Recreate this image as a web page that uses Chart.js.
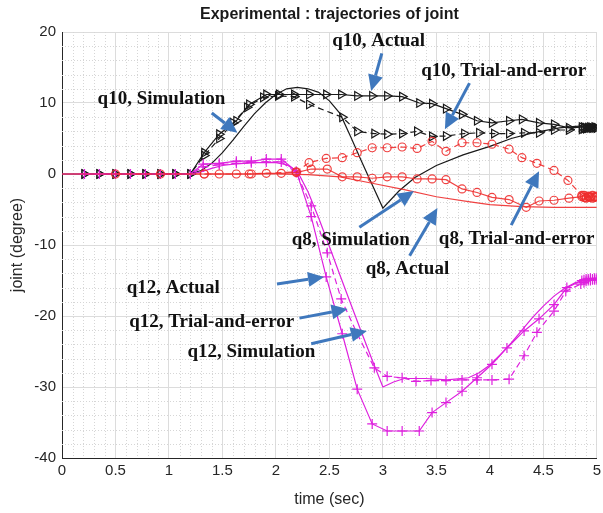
<!DOCTYPE html>
<html lang="en">
<head>
<meta charset="UTF-8">
<title>Experimental : trajectories of joint</title>
<script src="https://cdn.jsdelivr.net/npm/chart.js@4.4.1/dist/chart.umd.min.js"></script>
<style>
  html, body { margin: 0; padding: 0; background: #fff; }
</style>
</head>
<body>
<canvas id="myChart" width="603" height="513"></canvas>
<script>
    // time samples (sec) and joint angles (degree) for each trajectory
    const q10SimT = [0, 1.2, 1.3, 1.4, 1.5, 1.6, 1.7, 1.8, 1.9, 2.0, 2.1, 2.2, 2.3, 2.4, 2.5, 2.6, 2.7, 2.8, 2.9, 3.0, 3.15, 3.3, 3.5, 3.75, 4.0, 4.2, 4.4, 4.65, 4.8, 5.0];
    const q10SimV = [0, 0, 0.5, 1.5, 3.0, 4.8, 6.7, 8.5, 10.0, 11.2, 12.0, 12.2, 12.0, 11.5, 10.3, 8.5, 5.2, 1.8, -1.5, -4.8, -2.4, -0.5, 1.2, 2.7, 3.9, 5.0, 5.8, 6.5, 6.7, 6.8];

    const q10ActT = [0.21, 0.35, 0.5, 0.64, 0.78, 0.92, 1.06, 1.2, 1.33, 1.47, 1.63, 1.75, 1.91, 2.03, 2.17, 2.31, 2.47, 2.61, 2.76, 2.9, 3.04, 3.18, 3.34, 3.46, 3.59, 3.74, 3.88, 4.02, 4.18, 4.3, 4.46, 4.6, 4.74, 4.86, 4.88, 4.9, 4.92, 4.94, 4.96, 4.98, 5.0];
    const q10ActV = [0, 0, 0, 0, 0, 0, 0, 0, 3.0, 5.6, 7.5, 9.8, 11.2, 11.2, 11.2, 11.2, 11.2, 11.2, 11.0, 11.0, 11.0, 10.9, 10.0, 9.9, 9.2, 8.4, 7.5, 7.2, 7.5, 7.7, 7.2, 7.0, 6.5, 6.6, 6.6, 6.5, 6.5, 6.6, 6.5, 6.6, 6.5];

    const q10TrialT = [0.21, 0.35, 0.5, 0.64, 0.78, 0.92, 1.06, 1.2, 1.33, 1.47, 1.6, 1.73, 1.88, 2.02, 2.17, 2.31, 2.62, 2.76, 2.92, 3.04, 3.18, 3.32, 3.46, 3.59, 3.76, 3.9, 4.04, 4.18, 4.32, 4.46, 4.6, 4.74, 4.86, 4.88, 4.9, 4.92, 4.94, 4.96, 4.98, 5.0];
    const q10TrialV = [0, 0, 0, 0, 0, 0, 0, 0, 2.6, 5.0, 7.2, 9.4, 10.8, 11.0, 10.9, 9.8, 8.0, 6.0, 5.7, 5.6, 5.7, 6.0, 5.3, 5.35, 5.7, 5.8, 5.7, 5.7, 5.8, 5.8, 6.2, 6.2, 6.3, 6.4, 6.4, 6.5, 6.5, 6.5, 6.5, 6.5];

    const q8SimT = [0, 2.0, 2.3, 2.6, 2.9, 3.2, 3.5, 3.8, 4.0, 4.3, 4.6, 5.0];
    const q8SimV = [0, 0, -0.1, -0.4, -1.3, -2.2, -3.2, -3.9, -4.3, -4.6, -4.7, -4.7];

    const q8ActT = [1.33, 1.47, 1.63, 1.77, 1.91, 2.05, 2.19, 2.33, 2.48, 2.62, 2.76, 2.9, 3.04, 3.18, 3.32, 3.46, 3.59, 3.74, 3.88, 4.02, 4.18, 4.34, 4.46, 4.6, 4.74, 4.86, 4.88, 4.9, 4.92, 4.94, 4.96, 4.98, 5.0];
    const q8ActV = [0, 0, 0, 0, 0.1, 0.1, 0.2, 0.7, 0.7, -0.4, -0.4, -0.6, -0.4, -0.4, -0.7, -0.7, -0.8, -2.1, -2.6, -3.3, -3.6, -4.7, -3.8, -3.7, -3.4, -3.2, -3.0, -3.3, -3.1, -3.2, -3.0, -3.2, -3.1];

    const q8TrialT = [0.5, 0.92, 1.33, 1.75, 2.19, 2.31, 2.47, 2.62, 2.76, 2.9, 3.04, 3.18, 3.32, 3.46, 3.59, 3.74, 3.88, 4.02, 4.18, 4.3, 4.44, 4.6, 4.73, 4.86, 4.88, 4.9, 4.92, 4.94, 4.96, 4.98, 5.0];
    const q8TrialV = [0, 0, 0, 0, 0.3, 1.6, 2.2, 2.3, 3.0, 3.7, 3.7, 3.8, 3.6, 4.6, 3.2, 4.4, 4.4, 4.2, 3.5, 2.3, 1.5, 0.5, -0.9, -3.0, -3.3, -3.4, -3.2, -3.3, -3.4, -3.3, -3.2];

    const q12SimT = [0, 1.2, 1.3, 1.4, 1.5, 1.6, 1.8, 2.0, 2.1, 2.2, 2.3, 2.4, 2.5, 2.6, 2.7, 2.8, 2.9, 3.0, 3.1, 3.2, 3.4, 3.6, 3.8, 3.9, 4.0, 4.1, 4.2, 4.3, 4.4, 4.5, 4.6, 4.7, 4.8, 4.9, 5.0];
    const q12SimV = [0, 0, 0.3, 0.8, 1.2, 1.4, 1.6, 1.6, 1.3, 0.4, -2.5, -6.2, -10.2, -14.3, -18.3, -22.3, -26.2, -30.0, -29.3, -28.8, -28.8, -29.0, -28.7, -28.0, -26.9, -25.4, -23.8, -22.0, -20.2, -18.6, -17.2, -16.1, -15.3, -14.9, -14.7];

    const q12ActT = [0.21, 0.35, 0.5, 0.64, 0.78, 0.92, 1.06, 1.2, 1.32, 1.47, 1.63, 1.77, 1.91, 2.05, 2.19, 2.33, 2.47, 2.62, 2.76, 2.9, 3.04, 3.18, 3.34, 3.46, 3.59, 3.74, 3.88, 4.02, 4.16, 4.32, 4.46, 4.6, 4.72, 4.86, 4.88, 4.9, 4.92, 4.94, 4.96, 4.98, 5.0];
    const q12ActV = [0, 0, 0, 0, 0, 0, 0, 0, 1.4, 1.5, 1.8, 1.8, 2.1, 2.1, 0.4, -6.0, -14.5, -22.5, -30.3, -35.2, -36.2, -36.2, -36.2, -33.6, -32.2, -30.6, -28.7, -26.8, -24.5, -22.1, -20.4, -18.4, -16.0, -15.0, -14.9, -14.8, -14.8, -14.7, -14.8, -14.7, -14.7];

    const q12TrialT = [0.21, 0.35, 0.5, 0.64, 0.78, 0.92, 1.06, 1.2, 1.32, 1.47, 1.63, 1.77, 1.91, 2.05, 2.19, 2.33, 2.48, 2.61, 2.76, 2.92, 3.04, 3.18, 3.31, 3.45, 3.59, 3.74, 3.88, 4.02, 4.18, 4.32, 4.44, 4.6, 4.71, 4.85, 4.88, 4.9, 4.92, 4.94, 4.96, 4.98, 5.0];
    const q12TrialV = [0, 0, 0, 0, 0, 0, 0, 0, 1.0, 1.3, 1.5, 1.6, 1.7, 1.7, 0.2, -4.5, -11.1, -17.6, -22.5, -27.3, -28.5, -28.7, -29.2, -29.1, -29.1, -29.0, -29.0, -29.0, -28.9, -25.6, -22.3, -19.3, -16.5, -15.5, -15.3, -15.1, -15.0, -15.0, -14.9, -14.9, -14.9];

    // callouts: label, label centre, arrow tail, arrow head (time, degree)
    const noteText = ["q10, Actual", "q10, Trial-and-error", "q10, Simulation", "q8, Simulation", "q8, Actual",
        "q8, Trial-and-error", "q12, Actual", "q12, Trial-and-error", "q12, Simulation"];
    const noteAt = [[2.96, 18.7], [4.13, 14.5], [0.93, 10.6], [2.70, -9.3], [3.23, -13.4],
        [4.25, -9.2], [1.04, -16.1], [1.40, -20.8], [1.77, -25.1]];
    const arrowFrom = [[2.99, 17.0], [3.81, 12.8], [1.40, 8.6], [2.78, -7.5], [3.25, -11.5],
        [4.20, -7.2], [2.01, -15.5], [2.22, -20.3], [2.33, -23.9]];
    const arrowTo = [[2.89, 11.7], [3.58, 6.3], [1.64, 5.8], [3.29, -2.4], [3.51, -4.8],
        [4.46, 0.4], [2.45, -14.5], [2.67, -19.0], [2.85, -22.1]];

    const BLACK = "#1a1a1a";
    const RED = "rgba(238,45,45,0.9)";
    const MAGENTA = "rgb(222,32,222)";
    const SANS = "'Liberation Sans', Arial, sans-serif";

    function pts(t, v) {
        return t.map((x, i) => ({x: x, y: v[i]}));
    }

    function series(t, v, color, opts) {
        return Object.assign({
            data: pts(t, v),
            showLine: true,
            borderColor: color,
            backgroundColor: "rgba(0,0,0,0)",
            pointBorderColor: color,
            pointBackgroundColor: "rgba(0,0,0,0)",
            borderWidth: 1.2,
            pointBorderWidth: 1.2,
            pointRadius: 0,
            tension: 0
        }, opts);
    }

    // dotted minor grid, 5 steps per major division
    const minorGrid = {
        id: "minorGrid",
        beforeDatasetsDraw(chart) {
            const {ctx, chartArea: a, scales: {x, y}} = chart;
            ctx.save();
            ctx.strokeStyle = "#d6d6d6";
            ctx.lineWidth = 1;
            ctx.setLineDash([1, 2]);
            for (let i = 1; i < 50; i++) {
                if (i % 5 === 0) continue;
                const px = Math.round(x.getPixelForValue(i / 10)) + 0.5;
                ctx.beginPath();
                ctx.moveTo(px, a.top);
                ctx.lineTo(px, a.bottom);
                ctx.stroke();
            }
            for (let v = -38; v < 20; v += 2) {
                if (v % 10 === 0) continue;
                const py = Math.round(y.getPixelForValue(v)) + 0.5;
                ctx.beginPath();
                ctx.moveTo(a.left, py);
                ctx.lineTo(a.right, py);
                ctx.stroke();
            }
            ctx.restore();
        }
    };

    // title over the axes box plus the blue callout arrows
    const callouts = {
        id: "callouts",
        afterDraw(chart) {
            const {ctx, chartArea: a, scales: {x, y}} = chart;
            ctx.save();
            ctx.fillStyle = "#1a1a1a";
            ctx.font = "bold 16px " + SANS;
            ctx.textAlign = "center";
            ctx.textBaseline = "middle";
            ctx.fillText("Experimental : trajectories of joint", (a.left + a.right) / 2, 15);

            ctx.strokeStyle = "#3f78bd";
            ctx.fillStyle = "#3f78bd";
            ctx.lineWidth = 3;
            for (let i = 0; i < arrowFrom.length; i++) {
                const x0 = x.getPixelForValue(arrowFrom[i][0]), y0 = y.getPixelForValue(arrowFrom[i][1]);
                const x1 = x.getPixelForValue(arrowTo[i][0]), y1 = y.getPixelForValue(arrowTo[i][1]);
                const ang = Math.atan2(y1 - y0, x1 - x0);
                const len = 16, half = 7.5;
                const bx = x1 - len * Math.cos(ang), by = y1 - len * Math.sin(ang);
                ctx.beginPath();
                ctx.moveTo(x0, y0);
                ctx.lineTo(bx, by);
                ctx.stroke();
                ctx.beginPath();
                ctx.moveTo(x1, y1);
                ctx.lineTo(bx + half * Math.sin(ang), by - half * Math.cos(ang));
                ctx.lineTo(bx - half * Math.sin(ang), by + half * Math.cos(ang));
                ctx.closePath();
                ctx.fill();
            }

            ctx.fillStyle = "#111";
            ctx.font = "bold 19px 'Liberation Serif', 'Times New Roman', serif";
            for (let i = 0; i < noteText.length; i++) {
                ctx.fillText(noteText[i], x.getPixelForValue(noteAt[i][0]), y.getPixelForValue(noteAt[i][1]));
            }
            ctx.restore();
        }
    };

    const tri = {pointStyle: "triangle", pointRotation: 90, pointRadius: 5};
    const ring = {pointStyle: "circle", pointRadius: 4};
    const plus = {pointStyle: "cross", pointRadius: 5};
    const dashed = {borderDash: [6, 4]};

    const myChart = new Chart("myChart", {
        type: "scatter",
        data: {
            datasets: [
                series(q8SimT, q8SimV, RED, {}),
                series(q8ActT, q8ActV, RED, ring),
                series(q8TrialT, q8TrialV, RED, Object.assign({}, ring, dashed)),
                series(q12SimT, q12SimV, MAGENTA, {}),
                series(q12ActT, q12ActV, MAGENTA, plus),
                series(q12TrialT, q12TrialV, MAGENTA, Object.assign({}, plus, dashed)),
                series(q10SimT, q10SimV, BLACK, {}),
                series(q10ActT, q10ActV, BLACK, tri),
                series(q10TrialT, q10TrialV, BLACK, Object.assign({}, tri, dashed))
            ]
        },
        options: {
            responsive: false,
            animation: false,
            layout: {padding: {top: 32, right: 5, left: 0, bottom: 0}},
            plugins: {
                legend: {display: false},
                title: {display: false},
                tooltip: {enabled: false}
            },
            scales: {
                x: {
                    type: "linear",
                    min: 0,
                    max: 5,
                    afterFit(scale) {
                        scale.height = 55;
                        // let the last tick label hang into the right margin
                        scale.paddingRight = 0;
                        scale.paddingLeft = 0;
                    },
                    ticks: {
                        stepSize: 0.5,
                        color: "#262626",
                        padding: 4,
                        maxRotation: 0,
                        callback: (v) => String(Math.round(v * 10) / 10),
                        font: {family: SANS, size: 15}
                    },
                    grid: {color: "#dcdcdc", drawTicks: false},
                    border: {color: "#262626", width: 1},
                    title: {
                        display: true,
                        text: "time (sec)",
                        color: "#262626",
                        padding: {top: 3},
                        font: {family: SANS, size: 16}
                    }
                },
                y: {
                    min: -40,
                    max: 20,
                    afterFit(scale) { scale.width = 62; },
                    ticks: {
                        stepSize: 10,
                        color: "#262626",
                        padding: 6,
                        font: {family: SANS, size: 15}
                    },
                    grid: {color: "#dcdcdc", drawTicks: false},
                    border: {color: "#262626", width: 1},
                    title: {
                        display: true,
                        text: "joint (degree)",
                        color: "#262626",
                        padding: {top: 8, bottom: 0},
                        font: {family: SANS, size: 16}
                    }
                }
            }
        },
        plugins: [minorGrid, callouts]
    });
</script>
</body>
</html>
